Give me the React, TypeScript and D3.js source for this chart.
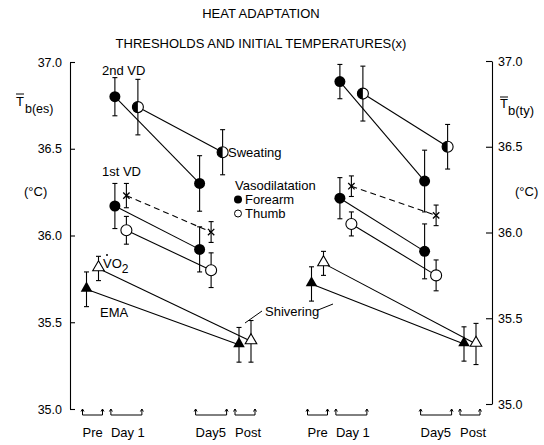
import React, { useEffect, useRef } from "react";
import * as d3 from "d3";

const W = 544;
const H = 445;
const FONT = "'Liberation Sans', Arial, sans-serif";

// sessions along the x axis (Day 1 -> Day 5 is compressed)
const sessions = ["Pre", "Day 1", "Day 5", "Post"];
const sessionLabels = ["Pre", "Day 1", "Day5", "Post"];
const sessionPos = [0, 1, 3.5, 4.5];
const daySessions = ["Day 1", "Day 5"];
const prePostSessions = ["Pre", "Post"];
const tickValues = [35.0, 35.5, 36.0, 36.5, 37.0];

// left panel, Tb(es)
const esVd2Forearm = [36.8, 36.3];
const esVd2ForearmSe = [0.11, 0.16];
const esVd2Thumb = [36.74, 36.48];
const esVd2ThumbSe = [0.16, 0.13];
const esVd1Forearm = [36.17, 35.92];
const esVd1ForearmSe = [0.13, 0.13];
const esVd1Thumb = [36.03, 35.8];
const esVd1ThumbSe = [0.08, 0.1];
const esInitial = [36.23, 36.02];
const esInitialSe = [0.07, 0.06];
const esEma = [35.69, 35.37];
const esEmaSe = [0.1, 0.1];
const esVo2 = [35.81, 35.39];
const esVo2Se = [0.07, 0.12];

// right panel, Tb(ty)
const tyVd2Forearm = [36.88, 36.3];
const tyVd2ForearmSe = [0.1, 0.18];
const tyVd2Thumb = [36.81, 36.5];
const tyVd2ThumbSe = [0.16, 0.13];
const tyVd1Forearm = [36.2, 35.89];
const tyVd1ForearmSe = [0.12, 0.16];
const tyVd1Thumb = [36.05, 35.75];
const tyVd1ThumbSe = [0.07, 0.09];
const tyInitial = [36.27, 36.1];
const tyInitialSe = [0.06, 0.06];
const tyEma = [35.7, 35.35];
const tyEmaSe = [0.1, 0.1];
const tyVo2 = [35.82, 35.35];
const tyVo2Se = [0.07, 0.12];

const seriesDefs = [
  { id: "vd2Forearm", sessions: daySessions, slot: "forearm", marker: "filled", dashed: false },
  { id: "vd2Thumb", sessions: daySessions, slot: "sweat", marker: "half", dashed: false },
  { id: "vd1Forearm", sessions: daySessions, slot: "forearm", marker: "filled", dashed: false },
  { id: "vd1Thumb", sessions: daySessions, slot: "thumb", marker: "open", dashed: false },
  { id: "initial", sessions: daySessions, slot: "thumb", marker: "cross", dashed: true },
  { id: "ema", sessions: prePostSessions, slot: "ema", marker: "triFilled", dashed: false },
  { id: "vo2", sessions: prePostSessions, slot: "vo2", marker: "triOpen", dashed: false },
];

const esData: Record<string, number[][]> = {
  vd2Forearm: [esVd2Forearm, esVd2ForearmSe],
  vd2Thumb: [esVd2Thumb, esVd2ThumbSe],
  vd1Forearm: [esVd1Forearm, esVd1ForearmSe],
  vd1Thumb: [esVd1Thumb, esVd1ThumbSe],
  initial: [esInitial, esInitialSe],
  ema: [esEma, esEmaSe],
  vo2: [esVo2, esVo2Se],
};
const tyData: Record<string, number[][]> = {
  vd2Forearm: [tyVd2Forearm, tyVd2ForearmSe],
  vd2Thumb: [tyVd2Thumb, tyVd2ThumbSe],
  vd1Forearm: [tyVd1Forearm, tyVd1ForearmSe],
  vd1Thumb: [tyVd1Thumb, tyVd1ThumbSe],
  initial: [tyInitial, tyInitialSe],
  ema: [tyEma, tyEmaSe],
  vo2: [tyVo2, tyVo2Se],
};

export default function App() {
  const ref = useRef<SVGSVGElement>(null);

  useEffect(() => {
    const svg = d3.select(ref.current);
    svg.selectAll("*").remove();

    const dodge3 = d3.scalePoint().domain(["forearm", "thumb", "sweat"]).range([-11.5, 11.5]);
    const dodge2 = d3.scalePoint().domain(["ema", "vo2"]).range([-6, 6]);
    const dodge = (slot: string) =>
      (dodge3.domain().includes(slot) ? dodge3(slot) : dodge2(slot)) as number;

    const panels = [
      {
        x: d3.scaleLinear().domain([0, 4.5]).range([92.5, 245]),
        y: d3.scaleLinear().domain([35, 37]).range([409, 62]),
        data: esData,
      },
      {
        x: d3.scaleLinear().domain([0, 4.5]).range([317.5, 470]),
        y: d3.scaleLinear().domain([35, 37]).range([404, 61]),
        data: tyData,
      },
    ];

    // titles
    svg.append("text").attr("x", 261).attr("y", 18).attr("text-anchor", "middle")
      .attr("font-size", 13).text("HEAT ADAPTATION");
    svg.append("text").attr("x", 261).attr("y", 48).attr("text-anchor", "middle")
      .attr("font-size", 13).text("THRESHOLDS AND INITIAL TEMPERATURES(x)");

    // axes
    const fmt = d3.format(".1f");
    const gl = svg.append("g").attr("transform", "translate(70,0)")
      .call(d3.axisLeft(panels[0].y).tickValues(tickValues).tickFormat(fmt as any)
        .tickSizeInner(-5).tickSizeOuter(0).tickPadding(8));
    const gr = svg.append("g").attr("transform", "translate(492,0)")
      .call(d3.axisRight(panels[1].y).tickValues(tickValues).tickFormat(fmt as any)
        .tickSizeInner(-6).tickSizeOuter(0).tickPadding(6));
    [gl, gr].forEach((g) => {
      g.attr("font-family", FONT).attr("font-size", 12.5);
      g.selectAll("text").attr("fill", "#000");
      g.selectAll("line, path").attr("stroke", "#000").attr("stroke-width", 1.1);
    });

    // axis titles
    svg.append("text").attr("x", 16).attr("y", 106).attr("font-size", 13).text("T");
    svg.append("line").attr("x1", 16).attr("x2", 24).attr("y1", 94).attr("y2", 94).attr("stroke", "#000");
    svg.append("text").attr("x", 25).attr("y", 113).attr("font-size", 12.5).text("b(es)");
    svg.append("text").attr("x", 24).attr("y", 196).attr("font-size", 13).text("(°C)");
    svg.append("text").attr("x", 500).attr("y", 108).attr("font-size", 13).text("T");
    svg.append("line").attr("x1", 500).attr("x2", 508).attr("y1", 97).attr("y2", 97).attr("stroke", "#000");
    svg.append("text").attr("x", 508).attr("y", 115).attr("font-size", 13).text("b(ty)");
    svg.append("text").attr("x", 515).attr("y", 196).attr("font-size", 13).text("(°C)");

    const lineGen = d3.line<{ x: number; y: number }>().x((d) => d.x).y((d) => d.y);
    const halfArc = d3.arc<any>()({ innerRadius: 0, outerRadius: 5.5, startAngle: Math.PI, endAngle: 2 * Math.PI } as any);
    const tri = d3.symbol().type(d3.symbolTriangle).size(58)();
    const crossType = (d3 as any).symbolTimes || d3.symbolCross;
    const cross = d3.symbol().type(crossType).size(28)();

    panels.forEach((p) => {
      const layer = svg.append("g");
      const lines = layer.append("g");
      const bars = layer.append("g");
      const marks = layer.append("g");

      seriesDefs.forEach((s) => {
        const [vals, ses] = p.data[s.id];
        const pts = s.sessions.map((sess, i) => ({
          x: p.x(sessionPos[sessions.indexOf(sess)]) + dodge(s.slot),
          y: p.y(vals[i]),
          hi: p.y(vals[i] + ses[i]),
          lo: p.y(vals[i] - ses[i]),
        }));

        lines.append("path").attr("d", lineGen(pts)).attr("fill", "none")
          .attr("stroke", "#000").attr("stroke-width", 1.1)
          .attr("stroke-dasharray", s.dashed ? "6,4" : null);

        const eb = bars.selectAll(null).data(pts).join("g").attr("stroke", "#000").attr("stroke-width", 1.1);
        eb.append("line").attr("x1", (d) => d.x).attr("x2", (d) => d.x).attr("y1", (d) => d.hi).attr("y2", (d) => d.lo);
        eb.append("line").attr("x1", (d) => d.x - 2.5).attr("x2", (d) => d.x + 2.5).attr("y1", (d) => d.hi).attr("y2", (d) => d.hi);
        eb.append("line").attr("x1", (d) => d.x - 2.5).attr("x2", (d) => d.x + 2.5).attr("y1", (d) => d.lo).attr("y2", (d) => d.lo);

        const m = marks.selectAll(null).data(pts).join("g")
          .attr("transform", (d) => `translate(${d.x},${d.y})`);
        if (s.marker === "filled") {
          m.append("circle").attr("r", 5.5).attr("fill", "#000");
        } else if (s.marker === "open") {
          m.append("circle").attr("r", 5.5).attr("fill", "#fff").attr("stroke", "#000").attr("stroke-width", 1.1);
        } else if (s.marker === "half") {
          m.append("circle").attr("r", 5.5).attr("fill", "#fff").attr("stroke", "#000").attr("stroke-width", 1.1);
          m.append("path").attr("d", halfArc as string).attr("fill", "#000");
        } else if (s.marker === "cross") {
          m.append("path").attr("d", cross).attr("fill", "none").attr("stroke", "#000").attr("stroke-width", 1.3);
        } else if (s.marker === "triFilled") {
          m.append("path").attr("d", tri).attr("fill", "#000").attr("transform", "translate(0,-1)");
        } else if (s.marker === "triOpen") {
          m.append("path").attr("d", tri).attr("fill", "#fff").attr("stroke", "#000").attr("stroke-width", 1.1).attr("transform", "translate(0,-1)");
        }
      });

      // session brackets and labels
      sessions.forEach((sess, i) => {
        const d = sess === "Pre" || sess === "Post" ? dodge2 : dodge3;
        const [r0, r1] = d.range();
        const x0 = p.x(sessionPos[i]) + r0 - 4;
        const x1 = p.x(sessionPos[i]) + r1 + 4;
        const g = layer.append("g").attr("stroke", "#000").attr("stroke-width", 1).attr("fill", "none");
        g.append("path").attr("d", `M${x0},409V415H${x1}V409`);
        [x0, x1].forEach((xx) => {
          g.append("path").attr("d", `M${xx - 1.5},411.5L${xx},409L${xx + 1.5},411.5`);
        });
        layer.append("text").attr("x", x0).attr("y", 437).attr("font-size", 13).text(sessionLabels[i]);
      });
    });

    // annotations
    const ann = svg.append("g").attr("font-size", 13);
    ann.append("text").attr("x", 102).attr("y", 75).text("2nd VD");
    ann.append("text").attr("x", 228).attr("y", 157).text("Sweating");
    ann.append("text").attr("x", 102).attr("y", 176).text("1st VD");
    ann.append("text").attr("x", 235).attr("y", 190).text("Vasodilatation");
    ann.append("circle").attr("cx", 238).attr("cy", 199.5).attr("r", 4).attr("fill", "#000");
    ann.append("text").attr("x", 245).attr("y", 204).text("Forearm");
    ann.append("circle").attr("cx", 238).attr("cy", 213.5).attr("r", 3.5).attr("fill", "#fff").attr("stroke", "#000");
    ann.append("text").attr("x", 245).attr("y", 218).text("Thumb");
    const vo = ann.append("text").attr("x", 103).attr("y", 268);
    vo.append("tspan").text("VO");
    vo.append("tspan").attr("dy", 5).attr("font-size", 12).text("2");
    ann.append("circle").attr("cx", 107).attr("cy", 255).attr("r", 1).attr("fill", "#000");
    ann.append("text").attr("x", 100).attr("y", 317).text("EMA");
    ann.append("text").attr("x", 265).attr("y", 316).text("Shivering");
    ann.append("line").attr("x1", 245).attr("y1", 323).attr("x2", 262).attr("y2", 311).attr("stroke", "#000");
    ann.append("line").attr("x1", 318).attr("y1", 310).attr("x2", 333).attr("y2", 304).attr("stroke", "#000");
  }, []);

  return (
    <svg
      ref={ref}
      width={W}
      height={H}
      fontFamily={FONT}
      style={{ position: "absolute", left: 0, top: 0, display: "block", background: "#fff" }}
    />
  );
}
